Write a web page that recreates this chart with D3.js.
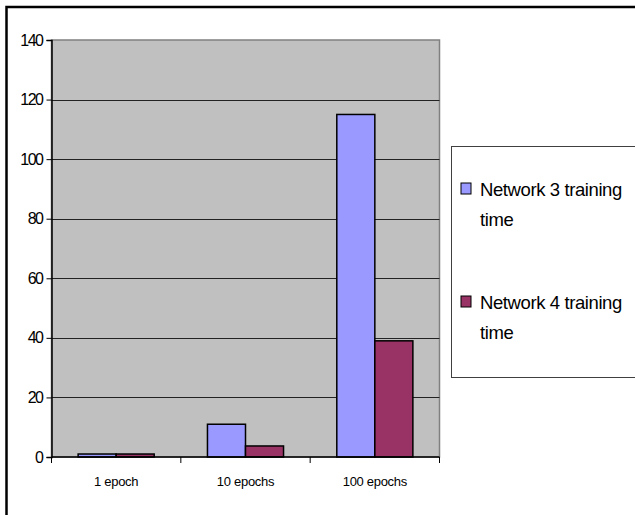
<!DOCTYPE html>
<html>
<head>
<meta charset="utf-8">
<script src="https://cdn.jsdelivr.net/npm/d3@7"></script>
<style>
  body { margin: 0; background: #fff; }
  text { font-family: "Liberation Sans", Arial, sans-serif; }
</style>
</head>
<body>
<div id="main"></div>
<script>
const categories = ["1 epoch", "10 epochs", "100 epochs"];
const seriesNames = ["Network 3 training time", "Network 4 training time"];
const network3 = [1, 11, 115];
const network4 = [1, 3.7, 39];
const yTicks = [0, 20, 40, 60, 80, 100, 120, 140];

const ctx = {
    W: 635,
    H: 515,
    left: 51.5,
    right: 439.5,
    top: 40,
    bottom: 457,
    colors: ["#9999ff", "#993366"],
};

function createViz() {
    const svgEl = d3.select("#main").append("svg")
        .attr("width", ctx.W)
        .attr("height", ctx.H);

    // outer chart frame (right and bottom edges are outside the picture)
    svgEl.append("rect")
        .attr("x", 6.5).attr("y", 7)
        .attr("width", ctx.W + 20).attr("height", ctx.H + 20)
        .style("fill", "#fff")
        .style("stroke", "#000")
        .style("stroke-width", 2.5);

    const x = d3.scaleBand().domain(categories).range([ctx.left, ctx.right]);
    const x1 = d3.scaleBand().domain([0, 1]).range([0, x.bandwidth()]).paddingOuter(0.7).paddingInner(0);
    const y = d3.scaleLinear().domain([0, 140]).range([ctx.bottom, ctx.top]);

    // plot area
    svgEl.append("rect")
        .attr("x", ctx.left).attr("y", ctx.top)
        .attr("width", ctx.right - ctx.left).attr("height", ctx.bottom - ctx.top)
        .style("fill", "#c0c0c0")
        .style("stroke", "#808080")
        .style("stroke-width", 1.5);

    // gridlines
    svgEl.append("g")
        .selectAll("line")
        .data(yTicks.filter(d => d > 0 && d < 140))
        .enter().append("line")
        .attr("x1", ctx.left).attr("x2", ctx.right)
        .attr("y1", d => Math.round(y(d)) + 0.5).attr("y2", d => Math.round(y(d)) + 0.5)
        .style("stroke", "#222")
        .style("stroke-width", 1);

    // bars
    const data = categories.map((c, i) => ({ cat: c, vals: [network3[i], network4[i]] }));
    svgEl.append("g")
        .selectAll("g")
        .data(data)
        .enter().append("g")
        .attr("transform", d => `translate(${x(d.cat)},0)`)
        .selectAll("rect")
        .data(d => d.vals.map((v, k) => ({ v, k })))
        .enter().append("rect")
        .attr("x", d => x1(d.k))
        .attr("y", d => y(d.v))
        .attr("width", x1.bandwidth())
        .attr("height", d => ctx.bottom - y(d.v))
        .style("fill", d => ctx.colors[d.k])
        .style("stroke", "#000")
        .style("stroke-width", 1.5);

    // y axis
    const yAxis = svgEl.append("g")
        .attr("transform", `translate(${ctx.left},0)`)
        .call(d3.axisLeft(y).tickValues(yTicks).tickSize(5).tickPadding(4));
    yAxis.select(".domain").style("stroke", "#000").style("stroke-width", 1.5);
    yAxis.selectAll("text")
        .style("font-size", "16px")
        .style("letter-spacing", "-1.5px")
        .style("fill", "#000");

    // x axis
    const xAxis = svgEl.append("g")
        .attr("transform", `translate(0,${ctx.bottom})`);
    xAxis.append("line")
        .attr("x1", ctx.left).attr("x2", ctx.right)
        .attr("y1", 0).attr("y2", 0)
        .style("stroke", "#000").style("stroke-width", 1.5);
    xAxis.selectAll(".tk")
        .data([categories[0]].concat(categories))
        .enter().append("line")
        .attr("x1", (d, i) => i === 0 ? ctx.left : x(d) + x.bandwidth())
        .attr("x2", (d, i) => i === 0 ? ctx.left : x(d) + x.bandwidth())
        .attr("y1", 0).attr("y2", 6)
        .style("stroke", "#000").style("stroke-width", 1);
    xAxis.selectAll(".lbl")
        .data(categories)
        .enter().append("text")
        .attr("x", d => x(d) + x.bandwidth() / 2)
        .attr("y", 29)
        .attr("text-anchor", "middle")
        .style("font-size", "13px")
        .style("letter-spacing", "-0.3px")
        .text(d => d);

    // legend
    const legend = svgEl.append("g");
    legend.append("rect")
        .attr("x", 451.5).attr("y", 146.5)
        .attr("width", 200).attr("height", 231)
        .style("fill", "#fff")
        .style("stroke", "#404040")
        .style("stroke-width", 1);

    const items = legend.selectAll(".item")
        .data(seriesNames)
        .enter().append("g")
        .attr("transform", (d, i) => `translate(0,${i * 113})`);
    items.append("rect")
        .attr("x", 461).attr("y", 183)
        .attr("width", 10).attr("height", 11)
        .style("fill", (d, i) => ctx.colors[i])
        .style("stroke", "#000")
        .style("stroke-width", 1);
    const t = items.append("text")
        .attr("x", 480).attr("y", 196)
        .style("font-size", "18.5px")
        .style("letter-spacing", "-0.4px");
    t.append("tspan").text(d => d.replace(/ time$/, ""));
    t.append("tspan").attr("x", 480).attr("dy", 30).text("time");
}

createViz();
</script>
</body>
</html>
